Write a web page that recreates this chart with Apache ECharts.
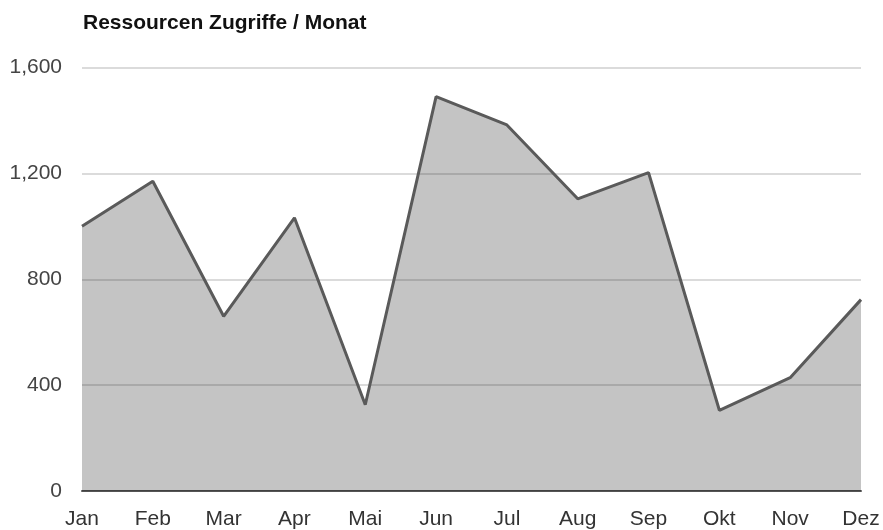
<!DOCTYPE html>
<html><head><meta charset="utf-8">
<script src="https://cdn.jsdelivr.net/npm/echarts@6/dist/echarts.min.js"></script>
<style>html,body{margin:0;padding:0;background:#fff}#c{width:883px;height:530px}</style>
</head><body><div id="c"></div>
<script>
const months = ['Jan','Feb','Mar','Apr','Mai','Jun','Jul','Aug','Sep','Okt','Nov','Dez'];
const accesses = [1000, 1170, 660, 1032, 326, 1490, 1383, 1104, 1203, 305, 428, 723];
const yTicks = [0, 400, 800, 1200, 1600];
const chart = echarts.init(document.getElementById('c'));
chart.setOption({
  animation: false,
  title: {text: 'Ressourcen Zugriffe / Monat', left: 78, top: 8,
    textStyle: {fontFamily: 'Liberation Sans, Arial', fontWeight: 'bold', fontSize: 21, color: '#111'}},
  grid: {left: 82, right: 22, top: 67.5, bottom: 38.5, containLabel: false},
  xAxis: {type: 'category', data: months, boundaryGap: false,
    axisLine: {lineStyle: {color: '#555', width: 2}}, axisTick: {show: false},
    axisLabel: {color: '#333', fontSize: 21, fontFamily: 'Liberation Sans, Arial', margin: 18}},
  yAxis: {type: 'value', min: yTicks[0], max: yTicks[yTicks.length-1], interval: 400,
    axisLine: {show: false}, axisTick: {show: false},
    splitLine: {lineStyle: {color: '#cfcfcf', width: 1.5}},
    axisLabel: {color: '#444', fontSize: 21, fontFamily: 'Liberation Sans, Arial', margin: 20,
      formatter: v => v.toLocaleString('en-US')}},
  series: [{type: 'line', data: accesses, symbol: 'none',
    lineStyle: {color: '#5a5a5a', width: 3},
    areaStyle: {color: 'rgba(0,0,0,0.23)', opacity: 1}}]
});
</script></body></html>
